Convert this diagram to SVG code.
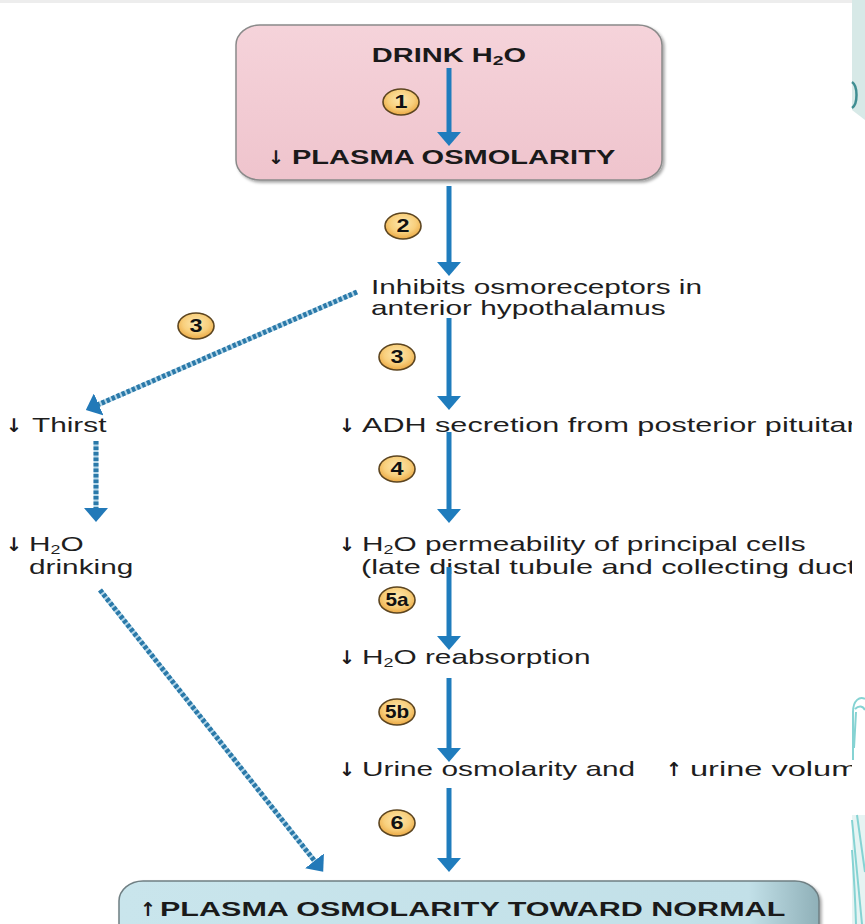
<svg xmlns="http://www.w3.org/2000/svg" width="865" height="924" viewBox="0 0 865 924">
  <style>
    .t { font-family: "Liberation Sans", Arial, sans-serif; font-size: 20px; fill: #1e1e1e; }
    .tb { font-family: "Liberation Sans", Arial, sans-serif; font-weight: bold; fill: #1a1a1a; }
    .arr { font-family: "DejaVu Sans", "Liberation Sans", sans-serif; font-weight: bold; font-size: 19px; fill: #1a1a1a; }
    .num { font-family: "Liberation Sans", Arial, sans-serif; font-weight: bold; font-size: 18px; fill: #111; text-anchor: middle; }
    .flow { stroke: #1f7cbd; stroke-width: 5; fill: none; }
    .dash-under { stroke: #b4d6e8; stroke-width: 5; fill: none; }
    .dash { stroke: #2a79a9; stroke-width: 5; stroke-dasharray: 3.5 2; fill: none; }
    .badge { fill: url(#badgeFill); stroke: #5c4520; stroke-width: 1.6; }
  </style>
  <defs>
    <radialGradient id="badgeFill" cx="50%" cy="40%" r="60%">
      <stop offset="0" stop-color="#fde8b0"/>
      <stop offset="0.6" stop-color="#f8cf7c"/>
      <stop offset="1" stop-color="#eba843"/>
    </radialGradient>
    <linearGradient id="pinkFill" x1="0" y1="0" x2="0" y2="1">
      <stop offset="0" stop-color="#f5d3da"/>
      <stop offset="1" stop-color="#efc4cd"/>
    </linearGradient>
    <linearGradient id="blueFill" x1="0" y1="0" x2="1" y2="0">
      <stop offset="0" stop-color="#c9e5ec"/>
      <stop offset="0.9" stop-color="#c2e0e8"/>
      <stop offset="1" stop-color="#8fb0b8"/>
    </linearGradient>
    <filter id="shadow" x="-5%" y="-5%" width="110%" height="115%">
      <feDropShadow dx="2" dy="2" stdDeviation="1.5" flood-color="#000" flood-opacity="0.35"/>
    </filter>
    <marker id="head" viewBox="0 0 14 24" refX="4" refY="12" markerWidth="14" markerHeight="24" markerUnits="userSpaceOnUse" orient="auto">
      <path d="M0,0 L14,12 L0,24 Z" fill="#1f7cbd"/>
    </marker>
    <marker id="headDash" viewBox="0 0 14 24" refX="4" refY="12" markerWidth="14" markerHeight="24" markerUnits="userSpaceOnUse" orient="auto">
      <path d="M0,0 L14,12 L0,24 Z" fill="#2279b8"/>
    </marker>
    <clipPath id="page">
      <rect x="0" y="0" width="852" height="924"/>
    </clipPath>
  </defs>

  <rect x="0" y="0" width="865" height="924" fill="#fff"/>
  <rect x="0" y="0" width="852" height="3" fill="#ededed"/>

  <g clip-path="url(#page)">
    <!-- start box -->
    <g id="drink">
      <rect x="236" y="25" width="426" height="155" rx="24" ry="20" fill="url(#pinkFill)" stroke="#8a8a8a" stroke-width="1.5" filter="url(#shadow)"/>
      <text class="tb" font-size="19.5" text-anchor="middle" transform="translate(449,62) scale(1.49,1)">DRINK H<tspan font-size="13" dy="3">2</tspan><tspan dy="-3">O</tspan></text>
      <text class="arr" transform="translate(268,164)">↓</text>
      <text class="tb" font-size="19.5" transform="translate(292,164) scale(1.49,1)">PLASMA OSMOLARITY</text>
    </g>

    <!-- end box -->
    <g id="normal">
      <rect x="119" y="881" width="700" height="80" rx="24" ry="20" fill="url(#blueFill)" stroke="#6f7f83" stroke-width="1.5" filter="url(#shadow)"/>
      <text class="arr" transform="translate(140,916)">↑</text>
      <text class="tb" font-size="20.5" transform="translate(160,916) scale(1.49,1)">PLASMA OSMOLARITY TOWARD NORMAL</text>
    </g>

    <!-- steps in the main column -->
    <g id="osmoreceptors">
      <text class="t" transform="translate(371,294) scale(1.49,1)">Inhibits osmoreceptors in</text>
      <text class="t" transform="translate(371,315) scale(1.49,1)">anterior hypothalamus</text>
    </g>
    <g id="adh">
      <text class="arr" transform="translate(339,432)">↓</text>
      <text class="t" textLength="332" lengthAdjust="spacingAndGlyphs" transform="translate(362,432) scale(1.49,1)">ADH secretion from posterior pituitar</text>
    </g>
    <g id="permeability">
      <text class="arr" transform="translate(339,551)">↓</text>
      <text class="t" transform="translate(362,551) scale(1.49,1)">H<tspan font-size="12" dy="2.5">2</tspan><tspan dy="-2.5">O permeability of principal cells</tspan></text>
      <text class="t" textLength="332" lengthAdjust="spacingAndGlyphs" transform="translate(361,574) scale(1.49,1)">(late distal tubule and collecting duct</text>
    </g>
    <g id="reabsorption">
      <text class="arr" transform="translate(339,664)">↓</text>
      <text class="t" transform="translate(362,664) scale(1.49,1)">H<tspan font-size="12" dy="2.5">2</tspan><tspan dy="-2.5">O reabsorption</tspan></text>
    </g>
    <g id="urine">
      <text class="arr" transform="translate(339,776)">↓</text>
      <text class="t" transform="translate(362,776) scale(1.49,1)">Urine osmolarity and</text>
      <text class="arr" transform="translate(666,776)">↑</text>
      <text class="t" textLength="113" lengthAdjust="spacingAndGlyphs" transform="translate(690,776) scale(1.49,1)">urine volum</text>
    </g>

    <!-- thirst branch -->
    <g id="thirst">
      <text class="arr" transform="translate(6,432)">↓</text>
      <text class="t" transform="translate(32,432) scale(1.49,1)">Thirst</text>
    </g>
    <g id="drinking">
      <text class="arr" transform="translate(6,551)">↓</text>
      <text class="t" transform="translate(29,551) scale(1.49,1)">H<tspan font-size="12" dy="2.5">2</tspan><tspan dy="-2.5">O</tspan></text>
      <text class="t" transform="translate(29,574) scale(1.49,1)">drinking</text>
    </g>

    <!-- connectors -->
    <g id="connectors">
      <line class="flow" x1="449" y1="68" x2="449" y2="136" marker-end="url(#head)"/>
      <line class="flow" x1="449" y1="186" x2="449" y2="266" marker-end="url(#head)"/>
      <line class="flow" x1="449" y1="318" x2="449" y2="400" marker-end="url(#head)"/>
      <line class="flow" x1="449" y1="432" x2="449" y2="513" marker-end="url(#head)"/>
      <line class="flow" x1="449" y1="567" x2="449" y2="640" marker-end="url(#head)"/>
      <line class="flow" x1="449" y1="678" x2="449" y2="752" marker-end="url(#head)"/>
      <line class="flow" x1="449" y1="788" x2="449" y2="862" marker-end="url(#head)"/>

      <line class="dash-under" x1="357" y1="292" x2="95" y2="406"/>
      <line class="dash" x1="357" y1="292" x2="95" y2="406" marker-end="url(#headDash)"/>
      <line class="dash-under" x1="96" y1="441" x2="96" y2="512"/>
      <line class="dash" x1="96" y1="441" x2="96" y2="512" marker-end="url(#headDash)"/>
      <line class="dash-under" x1="100" y1="590" x2="317" y2="864"/>
      <line class="dash" x1="100" y1="590" x2="317" y2="864" marker-end="url(#headDash)"/>
    </g>

    <!-- step numbers -->
    <g id="step-1"><ellipse class="badge" cx="401" cy="102" rx="18" ry="13"/><text class="num" transform="translate(401,108) scale(1.3,1)">1</text></g>
    <g id="step-2"><ellipse class="badge" cx="403" cy="226" rx="18" ry="13"/><text class="num" transform="translate(403,232) scale(1.3,1)">2</text></g>
    <g id="step-3-thirst"><ellipse class="badge" cx="196" cy="326" rx="18" ry="13"/><text class="num" transform="translate(196,332) scale(1.3,1)">3</text></g>
    <g id="step-3"><ellipse class="badge" cx="397" cy="357" rx="18" ry="13"/><text class="num" transform="translate(397,363) scale(1.3,1)">3</text></g>
    <g id="step-4"><ellipse class="badge" cx="397" cy="469" rx="18" ry="13"/><text class="num" transform="translate(397,475) scale(1.3,1)">4</text></g>
    <g id="step-5a"><ellipse class="badge" cx="397" cy="600" rx="18" ry="13"/><text class="num" transform="translate(397,606) scale(1.15,1)">5a</text></g>
    <g id="step-5b"><ellipse class="badge" cx="397" cy="712" rx="18" ry="13"/><text class="num" transform="translate(397,718) scale(1.15,1)">5b</text></g>
    <g id="step-6"><ellipse class="badge" cx="397" cy="823" rx="18" ry="13"/><text class="num" transform="translate(397,829) scale(1.3,1)">6</text></g>
  </g>

  <!-- slide border ornaments on the right edge -->
  <g id="edge-ornament">
    <path d="M852,0 L865,0 L865,120 L852,110 Z" fill="#d7e9e7"/>
    <path d="M852,82 C858,86 858,104 852,108" fill="none" stroke="#3f8e92" stroke-width="2.5"/>
    <path d="M853,760 L853,712 C853,700 860,696 865,699 M855,709 C859,705 863,706 865,710 M856,712 L854,748" fill="none" stroke="#86d3d3" stroke-width="2"/>
    <path d="M852,815 L865,815 L865,924 L852,924 Z" fill="#e6f4f3"/>
    <path d="M852,820 Q857,870 862,924 M852,850 Q855,890 856,924 M857,815 Q862,850 865,872" fill="none" stroke="#86d3d3" stroke-width="2"/>
  </g>
</svg>
